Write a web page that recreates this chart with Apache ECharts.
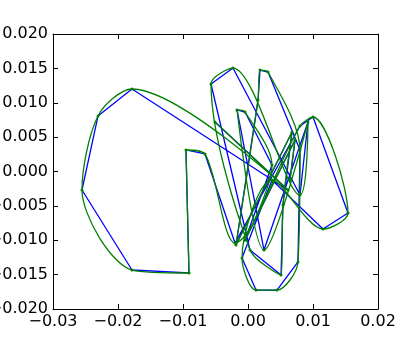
<!DOCTYPE html>
<html>
<head>
<meta charset="utf-8">
<script src="https://cdn.jsdelivr.net/npm/echarts@6/dist/echarts.min.js"></script>
<style>
  html, body { margin: 0; padding: 0; background: #fff; }
  #chart { width: 420px; height: 343px; }
</style>
</head>
<body>
<div id="chart"></div>
<script>
// sampled points of the trajectory (x, y)
const xs = [-0.00508, 0.00615, -0.01785, -0.02308, -0.02554, -0.01785, -0.00908, -0.00954, -0.00662, -0.0020,
  0.0080, 0.0100, 0.01538, 0.01154, 0.00369, -0.00092, 0.00123, 0.00446, 0.00769, 0.0080,
  0.00308, 0.00185, 0.00154, -0.00185, 0.00677, 0.00538, 0.00508, 0.00031, -0.00569, -0.00231,
  0.0080, 0.00923, 0.00246, -0.00169, -0.00046, 0.00369, -0.00046, 0.00723, 0.00646]
const ys = [0.0072, -0.00269, 0.0120, 0.00807, -0.00269, -0.01433, -0.01476, 0.00313, 0.00255, -0.0104,
  0.00662, 0.00793, -0.00604, -0.00836, -0.00124, -0.01258, -0.01724, -0.01724, -0.01316, 0.00313,
  0.01447, 0.01476, 0.0104, -0.01069, 0.00575, -0.00487, -0.01505, -0.01142, 0.01273, 0.01505,
  -0.00342, 0.0072, -0.01142, 0.00895, 0.00865, 0.00095, -0.010, 0.00458, -0.00124]
const xTicks = [-0.03, -0.02, -0.01, 0.00, 0.01, 0.02]
const yTicks = [-0.020, -0.015, -0.010, -0.005, 0.000, 0.005, 0.010, 0.015, 0.020]

const pts = xs.map((x, i) => [x, ys[i]])

function fmt (v, d) {
  let s = Number(v).toFixed(d)
  if (Number(s) === 0) s = (0).toFixed(d)
  return s.replace('-', '\u2212')
}

const chart = echarts.init(document.getElementById('chart'))
const labelFont = { color: '#000', fontFamily: 'DejaVu Sans', fontSize: 16 }
const baseX = {
  type: 'value',
  min: xTicks[0],
  max: xTicks[xTicks.length - 1],
  interval: 0.01,
  splitLine: { show: false },
  axisLine: { show: true, onZero: false, lineStyle: { color: '#000', width: 1 } },
  axisTick: { show: true, inside: true, length: 5, lineStyle: { color: '#000' } }
}
const baseY = {
  type: 'value',
  min: yTicks[0],
  max: yTicks[yTicks.length - 1],
  interval: 0.005,
  splitLine: { show: false },
  axisLine: { show: true, onZero: false, lineStyle: { color: '#000', width: 1 } },
  axisTick: { show: true, inside: true, length: 5, lineStyle: { color: '#000' } }
}
const option = {
  animation: false,
  grid: { left: 53, right: 42, top: 34, bottom: 34, containLabel: false, outerBoundsMode: 'none' },
  xAxis: [
    Object.assign({}, baseX, {
      position: 'bottom',
      axisLabel: Object.assign({ margin: 5, formatter: v => fmt(v, 2) }, labelFont)
    }),
    Object.assign({}, baseX, { position: 'top', axisLabel: { show: false } })
  ],
  yAxis: [
    Object.assign({}, baseY, {
      position: 'left',
      axisLabel: Object.assign({ margin: 5, formatter: v => fmt(v, 3) }, labelFont)
    }),
    Object.assign({}, baseY, { position: 'right', axisLabel: { show: false } })
  ],
  series: [
    {
      name: 'data',
      type: 'line',
      data: pts,
      showSymbol: false,
      lineStyle: { color: '#0000ff', width: 1.3 },
      z: 2
    },
    {
      name: 'spline',
      type: 'line',
      data: pts,
      smooth: 0.3,
      symbol: 'circle',
      symbolSize: 3,
      itemStyle: { color: '#008000' },
      lineStyle: { color: '#008000', width: 1.3 },
      z: 3
    }
  ]
}
chart.setOption(option)
</script>
</body>
</html>
